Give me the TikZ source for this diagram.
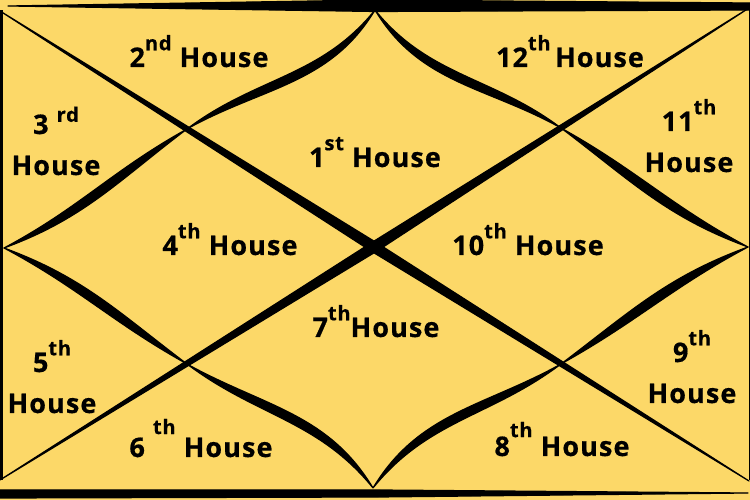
\documentclass[tikz,border=0pt]{standalone}
\usepackage{fontspec}
\setmainfont{Open Sans}[LetterSpace=4, BoldFeatures={FakeBold=0.6}]
\usepackage{tikz}
\usetikzlibrary{calc}
\definecolor{chartyellow}{HTML}{FCD868}
\newcommand{\housefont}{\fontsize{27}{41}\selectfont\bfseries}
\newcommand{\housesup}[2][.62em]{\raisebox{#1}{\fontsize{20}{20}\selectfont #2}}

\begin{document}
\begin{tikzpicture}[x=1pt, y=1pt,
    house/.style={font=\housefont, align=center, inner sep=0pt, anchor=base},
    ink/.style={fill=black, draw=black, line width=1.2pt, line join=round}]

  \useasboundingbox (0,0) rectangle (750,500);
  \fill[chartyellow] (0,0) rectangle (750,500);

  % corners, edge midpoints, centre
  \coordinate (NW) at (0,489);
  \coordinate (NE) at (749,492);
  \coordinate (SW) at (0,20);
  \coordinate (SE) at (749,19);
  \coordinate (C) at (374,253);
  \coordinate (T) at (375,490);
  \coordinate (B) at (373,12);
  \coordinate (L) at (4,252);
  \coordinate (R) at (748,253);
  % where the curves cut the diagonals
  \coordinate (X1) at (187,371);
  \coordinate (X2) at (561,372);
  \coordinate (X3) at (187,136);
  \coordinate (X4) at (561,136);

  % frame
  \fill[ink] (8,494) -- (375,500) -- (750,497) -- (750,490) -- (375,488.5) -- cycle;
  \fill[ink] (0,2) -- (0,10) -- (380,10) -- (748,7) -- (380,3) -- cycle;
  \draw[line width=3pt] (1.5,20) -- (1.5,490);
  \draw[line width=1.5pt] (749.25,20) -- (749.25,490);

  % diagonals
  \fill[ink] (NW) -- ($(C)!5pt!90:(NW)$) -- (SE) -- ($(C)!5pt!-90:(NW)$) -- cycle;
  \fill[ink] (SW) -- ($(C)!5pt!90:(SW)$) -- (NE) -- ($(C)!5pt!-90:(SW)$) -- cycle;

  % curved sides, each half drawn as a thin lens
  \fill[ink] (T) to[out=239,in=29] (X1) to[out=37,in=231] (T);
  \fill[ink] (X1) to[out=217,in=20] (L) to[out=28,in=209] (X1);
  \fill[ink] (T) to[out=309,in=143] (X2) to[out=151,in=301] (T);
  \fill[ink] (X2) to[out=331,in=152] (R) to[out=160,in=323] (X2);
  \fill[ink] (B) to[out=129,in=323] (X3) to[out=331,in=121] (B);
  \fill[ink] (X3) to[out=151,in=332] (L) to[out=340,in=143] (X3);
  \fill[ink] (B) to[out=59,in=209] (X4) to[out=217,in=51] (B);
  \fill[ink] (X4) to[out=37,in=200] (R) to[out=208,in=29] (X4);

  % houses
  \node[house] (h1) at (375,333) {1\housesup{st} House};
  \node[house] (h2) at (199,433) {2\housesup{nd} House};
  \node[house] (h3) at (56,325) {3 \housesup[.45em]{rd}\\House};
  \node[house] (h4) at (230,245) {4\housesup{th} House};
  \node[house] (h5) at (52,87) {5\housesup{th}\\House};
  \node[house] (h6) at (201,43) {6 \housesup[.85em]{th} House};
  \node[house] (h7) at (376,163) {7\housesup{th}House};
  \node[house] (h8) at (562,44) {8\housesup[.7em]{th} House};
  \node[house] (h9) at (692,97) {9\housesup{th}\\House};
  \node[house] (h10) at (528,245) {10\housesup{th} House};
  \node[house] (h11) at (689,328) {11\housesup{th}\\House};
  \node[house] (h12) at (570,433) {12\housesup{th}\,House};
\end{tikzpicture}
\end{document}
